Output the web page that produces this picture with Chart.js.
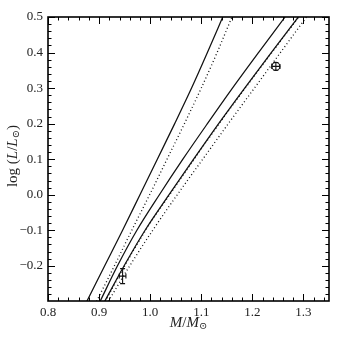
<!DOCTYPE html>
<html>
<head>
<meta charset="utf-8">
<script src="https://cdn.jsdelivr.net/npm/chart.js@4.4.1/dist/chart.umd.min.js"></script>
<style>
  html, body { margin: 0; padding: 0; background: #fff; }
</style>
</head>
<body>
<canvas id="grafic" width="347" height="347"></canvas>
<script>
// luminositat comuna a totes les corbes
const logL = [-0.3, -0.2, -0.1, 0.0, 0.1, 0.2, 0.3, 0.4, 0.5];
const massaSolid1 = [0.876, 0.911, 0.946, 0.980, 1.014, 1.048, 1.081, 1.112, 1.142];
const massaPunts1 = [0.895, 0.930, 0.964, 0.999, 1.033, 1.067, 1.100, 1.131, 1.160];
const massaSolid2 = [0.902, 0.936, 0.974, 1.018, 1.064, 1.112, 1.161, 1.212, 1.264];
const massaSolid3 = [0.911, 0.949, 0.990, 1.037, 1.085, 1.134, 1.185, 1.237, 1.290];
const massaPunts2 = [0.912, 0.950, 0.991, 1.038, 1.086, 1.135, 1.186, 1.238, 1.291];
const massaPunts3 = [0.918, 0.960, 1.005, 1.053, 1.103, 1.153, 1.204, 1.255, 1.306];

// estrelles observades
const obsMassa = [0.946, 1.246];
const obsLogL = [-0.229, 0.361];
const obsMassaErr = [0.0065, 0.008];
const obsLogLErr = [0.021, 0.011];

const xTicks = [0.8, 0.9, 1.0, 1.1, 1.2, 1.3];
const yTicks = [-0.2, -0.1, 0.0, 0.1, 0.2, 0.3, 0.4, 0.5];

const serif = '"Liberation Serif", "DejaVu Serif", serif';
const parella = (xs) => xs.map((x, i) => ({ x: x, y: logL[i] }));

function corba(xs, puntejada) {
    return {
        data: parella(xs),
        showLine: true,
        borderColor: '#111',
        borderWidth: puntejada ? 1.3 : 1.25,
        borderDash: puntejada ? [1, 2.6] : [],
        pointRadius: 0,
        cubicInterpolationMode: 'monotone',
        fill: false
    };
}

function textRic(ctx, trossos, cx, cy) {
    const fonts = { n: `15px ${serif}`, i: `italic 15px ${serif}`, s: `10px ${serif}` };
    let total = 0;
    trossos.forEach(t => { ctx.font = fonts[t.f]; t.w = ctx.measureText(t.t).width; total += t.w; });
    let x = cx - total / 2;
    trossos.forEach(t => {
        ctx.font = fonts[t.f];
        ctx.fillText(t.t, x, t.f === 's' ? cy + 3.5 : cy);
        x += t.w;
    });
}

const marc = {
    id: 'marc',
    afterDatasetsDraw(chart) {
        const ctx = chart.ctx, sx = chart.scales.x, sy = chart.scales.y;
        ctx.save();
        ctx.strokeStyle = '#111';
        ctx.lineWidth = 1.1;
        obsMassa.forEach((m, i) => {
            const px = sx.getPixelForValue(m), py = sy.getPixelForValue(obsLogL[i]);
            const x0 = sx.getPixelForValue(m - obsMassaErr[i]), x1 = sx.getPixelForValue(m + obsMassaErr[i]);
            const y0 = sy.getPixelForValue(obsLogL[i] - obsLogLErr[i]), y1 = sy.getPixelForValue(obsLogL[i] + obsLogLErr[i]);
            ctx.beginPath();
            ctx.moveTo(x0, py); ctx.lineTo(x1, py);
            ctx.moveTo(px, y0); ctx.lineTo(px, y1);
            ctx.moveTo(px - 2.5, y0); ctx.lineTo(px + 2.5, y0);
            ctx.moveTo(px - 2.5, y1); ctx.lineTo(px + 2.5, y1);
            ctx.moveTo(x0, py - 2.5); ctx.lineTo(x0, py + 2.5);
            ctx.moveTo(x1, py - 2.5); ctx.lineTo(x1, py + 2.5);
            ctx.stroke();
        });
        ctx.restore();
    },
    afterDraw(chart) {
        const ctx = chart.ctx, a = chart.chartArea, sx = chart.scales.x, sy = chart.scales.y;
        ctx.save();
        ctx.strokeStyle = '#000';
        ctx.lineWidth = 1;
        ctx.beginPath();
        for (let k = 0; k <= 27; k++) {
            const v = 0.8 + k * 0.02;
            const major = k % 5 === 0;
            const p = Math.round(sx.getPixelForValue(v)) + 0.5;
            const l = major ? 7 : 3.5;
            ctx.moveTo(p, a.bottom); ctx.lineTo(p, a.bottom - l);
            ctx.moveTo(p, a.top); ctx.lineTo(p, a.top + l);
        }
        for (let k = 0; k <= 40; k++) {
            const v = -0.3 + k * 0.02;
            if (v < sy.min) continue;
            const major = (k % 5 === 0);
            const p = Math.round(sy.getPixelForValue(v)) + 0.5;
            const l = major ? 7 : 3.5;
            ctx.moveTo(a.left, p); ctx.lineTo(a.left + l, p);
            ctx.moveTo(a.right, p); ctx.lineTo(a.right - l, p);
        }
        ctx.stroke();
        ctx.lineWidth = 1.6;
        ctx.strokeRect(a.left, a.top, a.right - a.left, a.bottom - a.top);

        ctx.fillStyle = '#222';
        ctx.textBaseline = 'middle';
        ctx.textAlign = 'left';
        textRic(ctx, [{ t: 'M', f: 'i' }, { t: '/', f: 'n' }, { t: 'M', f: 'i' }, { t: '⊙', f: 's' }],
            (a.left + a.right) / 2, 323);
        ctx.translate(13, (a.top + a.bottom) / 2 - 3);
        ctx.rotate(-Math.PI / 2);
        textRic(ctx, [{ t: 'log', f: 'n' }, { t: ' (', f: 'n' }, { t: 'L', f: 'i' }, { t: '/', f: 'n' },
            { t: 'L', f: 'i' }, { t: '⊙', f: 's' }, { t: ')', f: 'n' }], 0, 0);
        ctx.restore();
    }
};

new Chart(document.getElementById('grafic'), {
    type: 'scatter',
    data: {
        datasets: [
            corba(massaSolid1, false),
            corba(massaPunts1, true),
            corba(massaSolid2, false),
            corba(massaSolid3, false),
            corba(massaPunts2, true),
            corba(massaPunts3, true),
            {
                data: obsMassa.map((m, i) => ({ x: m, y: obsLogL[i] })),
                showLine: false,
                pointRadius: [0, 4],
                pointBorderColor: '#111',
                pointBorderWidth: 1.1,
                pointBackgroundColor: 'rgba(0,0,0,0)'
            }
        ]
    },
    options: {
        responsive: false,
        animation: false,
        layout: { padding: { top: 17, right: 18, left: 0, bottom: 0 } },
        plugins: { legend: { display: false }, tooltip: { enabled: false } },
        scales: {
            x: {
                type: 'linear', min: 0.8, max: 1.35,
                grid: { display: false, drawTicks: false },
                border: { display: false },
                afterBuildTicks: s => { s.ticks = xTicks.map(v => ({ value: v })); },
                afterFit: s => { s.height = 46; },
                ticks: {
                    padding: 4, color: '#222', maxRotation: 0,
                    font: { family: serif, size: 13 },
                    callback: v => v.toFixed(1)
                }
            },
            y: {
                type: 'linear', min: -0.299, max: 0.5,
                grid: { display: false, drawTicks: false },
                border: { display: false },
                afterBuildTicks: s => { s.ticks = yTicks.map(v => ({ value: v })); },
                afterFit: s => { s.width = 48; },
                ticks: {
                    padding: 5, color: '#222',
                    font: { family: serif, size: 13 },
                    callback: v => (v < 0 ? '\u2212' : '') + Math.abs(v).toFixed(1)
                }
            }
        }
    },
    plugins: [marc]
});
</script>
</body>
</html>
